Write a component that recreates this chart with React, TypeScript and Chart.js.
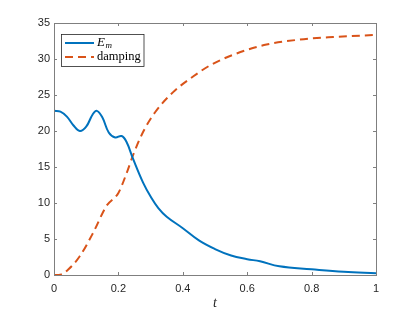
import React, { useEffect, useRef } from "react";
import { Chart, registerables } from "chart.js";

Chart.register(...registerables);

// E_m series (t, value)
const emT = [0, 0.02, 0.04, 0.06, 0.08, 0.1, 0.12, 0.133, 0.15, 0.17, 0.19, 0.21, 0.225, 0.245, 0.277, 0.3, 0.324, 0.35, 0.4, 0.45, 0.5, 0.55, 0.6, 0.64, 0.7, 0.8, 0.9, 1.0];
const emValues = [22.8, 22.7, 22.0, 20.8, 20.0, 20.6, 22.3, 22.8, 21.9, 19.8, 19.1, 19.3, 18.5, 16.2, 12.8, 10.9, 9.3, 8.1, 6.5, 4.8, 3.6, 2.7, 2.2, 1.9, 1.2, 0.8, 0.45, 0.24];

// damping series (t, value)
const dampT = [0, 0.02, 0.045, 0.08, 0.122, 0.163, 0.2, 0.226, 0.246, 0.277, 0.314, 0.37, 0.433, 0.484, 0.557, 0.66, 0.764, 0.867, 1.0];
const dampValues = [0, 0.05, 0.8, 2.6, 5.9, 9.6, 11.4, 14.2, 16.7, 19.9, 22.6, 25.4, 27.6, 29.1, 30.6, 32.0, 32.7, 33.05, 33.35];

const xTickValues = [0, 0.2, 0.4, 0.6, 0.8, 1];
const xTickLabels = ["0", "0.2", "0.4", "0.6", "0.8", "1"];
const yTickValues = [0, 5, 10, 15, 20, 25, 30, 35];
const yTickLabels = ["0", "5", "10", "15", "20", "25", "30", "35"];
const seriesNames = ["E", "damping"];
const seriesSub = "m";
const xTitle = "t";

const BLUE = "#0072BD";
const ORANGE = "#D95319";
const AXIS = "#262626";
const FRAME = "#7f7f7f";

const framePlugin = {
  id: "frameAndLegend",
  afterDatasetsDraw(chart: any) {
    const ctx = chart.ctx;
    const { left, right, top, bottom } = chart.chartArea;
    const xs = chart.scales.x;
    const ys = chart.scales.y;
    ctx.save();
    ctx.strokeStyle = FRAME;
    ctx.lineWidth = 1;
    ctx.strokeRect(Math.round(left) + 0.5, Math.round(top) + 0.5, Math.round(right - left), Math.round(bottom - top));
    const tl = 3;
    ctx.beginPath();
    for (const v of xTickValues) {
      const px = Math.round(xs.getPixelForValue(v)) + 0.5;
      ctx.moveTo(px, bottom);
      ctx.lineTo(px, bottom - tl);
      ctx.moveTo(px, top);
      ctx.lineTo(px, top + tl);
    }
    for (const v of yTickValues) {
      const py = Math.round(ys.getPixelForValue(v)) + 0.5;
      ctx.moveTo(left, py);
      ctx.lineTo(left + tl, py);
      ctx.moveTo(right, py);
      ctx.lineTo(right - tl, py);
    }
    ctx.stroke();

    // legend
    const bx = 61.5, by = 34.5, bw = 82.5, bh = 32;
    ctx.fillStyle = "#ffffff";
    ctx.fillRect(bx, by, bw, bh);
    ctx.strokeStyle = AXIS;
    ctx.lineWidth = 0.8;
    ctx.strokeRect(bx, by, bw, bh);

    const r1 = 43, r2 = 57;
    ctx.lineWidth = 2;
    ctx.strokeStyle = BLUE;
    ctx.setLineDash([]);
    ctx.beginPath();
    ctx.moveTo(65, r1);
    ctx.lineTo(94, r1);
    ctx.stroke();
    ctx.strokeStyle = ORANGE;
    ctx.setLineDash([8, 5]);
    ctx.beginPath();
    ctx.moveTo(65, r2);
    ctx.lineTo(94, r2);
    ctx.stroke();
    ctx.setLineDash([]);

    ctx.fillStyle = "#000000";
    ctx.textBaseline = "middle";
    ctx.textAlign = "left";
    ctx.font = "italic 13px 'Liberation Serif'";
    ctx.fillText(seriesNames[0], 97, r1);
    const ew = ctx.measureText(seriesNames[0]).width;
    ctx.font = "italic 9px 'Liberation Serif'";
    ctx.fillText(seriesSub, 97 + ew + 0.5, r1 + 3);
    ctx.font = "12.5px 'Liberation Serif'";
    ctx.fillText(seriesNames[1], 97, r2);
    ctx.restore();
  },
};

export default function App() {
  const ref = useRef<HTMLCanvasElement | null>(null);
  useEffect(() => {
    document.body.style.margin = "0";
    const canvas = ref.current;
    if (!canvas) return;
    const chart = new Chart(canvas, {
      type: "line",
      data: {
        datasets: [
          {
            label: "E_m",
            data: emT.map((t, i) => ({ x: t, y: emValues[i] })),
            borderColor: BLUE,
            borderWidth: 2,
            pointRadius: 0,
            tension: 0.4,
            fill: false,
          },
          {
            label: "damping",
            data: dampT.map((t, i) => ({ x: t, y: dampValues[i] })),
            borderColor: ORANGE,
            borderWidth: 2,
            borderDash: [8, 5],
            pointRadius: 0,
            cubicInterpolationMode: "monotone",
            fill: false,
          },
        ],
      },
      options: {
        responsive: false,
        animation: false,
        devicePixelRatio: 1,
        layout: { padding: { top: 23, right: 39, left: 0, bottom: 0 } },
        plugins: { legend: { display: false }, tooltip: { enabled: false } },
        scales: {
          x: {
            type: "linear",
            min: 0,
            max: 1,
            grid: { display: false, drawTicks: false },
            border: { display: false },
            afterBuildTicks: (s: any) => {
              s.ticks = xTickValues.map((v) => ({ value: v }));
            },
            afterFit: (s: any) => {
              s.height = 37;
            },
            ticks: {
              color: AXIS,
              font: { family: "'Liberation Sans'", size: 11 },
              padding: 7,
              maxRotation: 0,
              callback: (_v: any, i: number) => xTickLabels[i],
            },
            title: {
              display: true,
              text: xTitle,
              color: AXIS,
              font: { family: "'Liberation Serif'", style: "italic", size: 14 },
              padding: { top: 0, bottom: 0 },
            },
          },
          y: {
            type: "linear",
            min: 0,
            max: 35,
            grid: { display: false, drawTicks: false },
            border: { display: false },
            afterBuildTicks: (s: any) => {
              s.ticks = yTickValues.map((v) => ({ value: v }));
            },
            afterFit: (s: any) => {
              s.width = 54;
            },
            ticks: {
              color: AXIS,
              font: { family: "'Liberation Sans'", size: 11 },
              padding: 4,
              callback: (_v: any, i: number) => yTickLabels[i],
            },
          },
        },
      },
      plugins: [framePlugin],
    } as any);
    return () => chart.destroy();
  }, []);
  return (
    <div style={{ width: 415, height: 312, background: "#fff" }}>
      <canvas ref={ref} width={415} height={312} />
    </div>
  );
}
